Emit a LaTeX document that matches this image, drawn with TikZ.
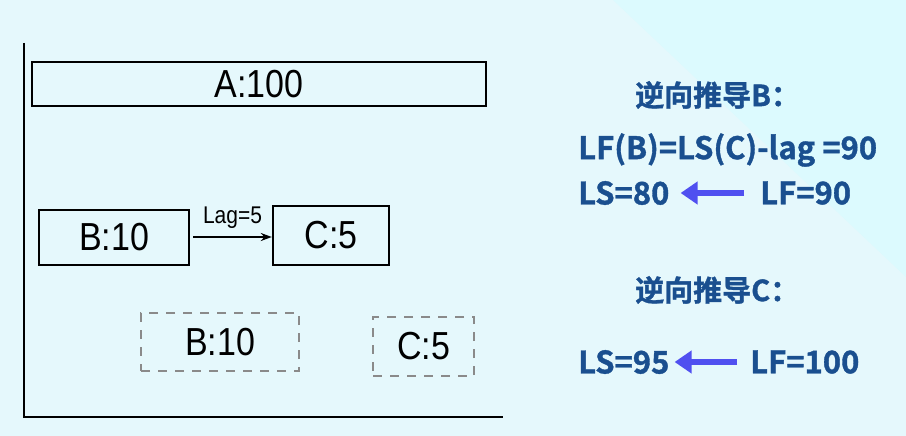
\documentclass[tikz,border=0pt]{standalone}
\usepackage{fontspec}
\setmainfont{Liberation Sans}
\newfontfamily\cjkbold[FakeBold=1.2]{Noto Sans CJK SC Bold}
\usetikzlibrary{arrows.meta,positioning}
\definecolor{slidebg}{HTML}{E5F8FC}
\definecolor{slideband}{HTML}{DCFAFE}
\definecolor{noteblue}{HTML}{1A4F8F}
\definecolor{backarrow}{HTML}{5050F0}
\definecolor{latebox}{HTML}{8A8A8A}
\newcommand{\talltext}[1]{\scalebox{1}[1.15]{#1}}
\tikzset{
  actbox/.style={draw=black, line width=2.4pt, inner sep=0pt, font=\fontsize{34}{34}\selectfont},
  latestbox/.style={draw=latebox, line width=2.2pt, dash pattern=on 9pt off 8pt, inner sep=0pt, font=\fontsize{34}{34}\selectfont},
  notetext/.style={text=noteblue, inner sep=0pt, anchor=west, font=\cjkbold\fontsize{31}{31}\selectfont},
  noteback/.style={draw=backarrow, line width=6pt, -{Triangle[length=17pt,width=22pt]}}
}
\begin{document}
\begin{tikzpicture}[x=1pt, y=-1pt]
% background of the slide
\fill[slidebg] (0,0) rectangle (906,436);
\fill[slideband] (613,0) -- (906,0) -- (906,277) -- cycle;
\useasboundingbox (0,0) rectangle (906,436);
% time axes
\coordinate (axtop) at (24,43);
\coordinate (axorg) at (24,417);
\coordinate (axend) at (503,417);
\draw[line width=2pt] (axtop) -- (axorg) -- (axend);
% activities
\node[actbox, minimum width=454pt, minimum height=44pt] (actA) at (259,84) {\talltext{A:100}};
\node[actbox, minimum width=150pt, minimum height=55pt] (actB) at (114,237.5) {\talltext{B:10}};
\node[actbox, minimum width=116pt, minimum height=59pt] (actC) at (331,235.5) {\talltext{C:5}};
\draw[line width=1.8pt, -{Stealth[length=11pt,width=8pt]}] ([xshift=3pt]actB.east |- 0,237) -- node[above=4pt, font=\fontsize{21}{21}\selectfont] (lagB) {\talltext{Lag=5}} (actC.west |- 0,237);
% latest positions
\node[latestbox, minimum width=158pt, minimum height=58pt] (lateB) at (220,342) {\talltext{B:10}};
\node[latestbox, minimum width=101pt, minimum height=59pt] (lateC) at (423.5,346.5) {\talltext{C:5}};
% backward pass notes
\node[notetext, font=\cjkbold\fontsize{29}{29}\selectfont] (headB) at (635,95) {逆向推导B：};
\node[notetext] (eqB) at (578,150) {LF(B)=LS(C)-lag =90};
\node[notetext] (lsB) at (578,193) {LS=80};
\node[notetext] (lfB) at (760,193) {LF=90};
\draw[noteback] (lfB.west) ++(-16pt,0) -- ([xshift=11pt]lsB.east);
\node[notetext, font=\cjkbold\fontsize{29}{29}\selectfont] (headC) at (635,290) {逆向推导C：};
\node[notetext] (lsC) at (578,362) {LS=95};
\node[notetext] (lfC) at (750,362) {LF=100};
\draw[noteback] (lfC.west) ++(-13pt,0) -- ([xshift=5pt]lsC.east);
\end{tikzpicture}
\end{document}
